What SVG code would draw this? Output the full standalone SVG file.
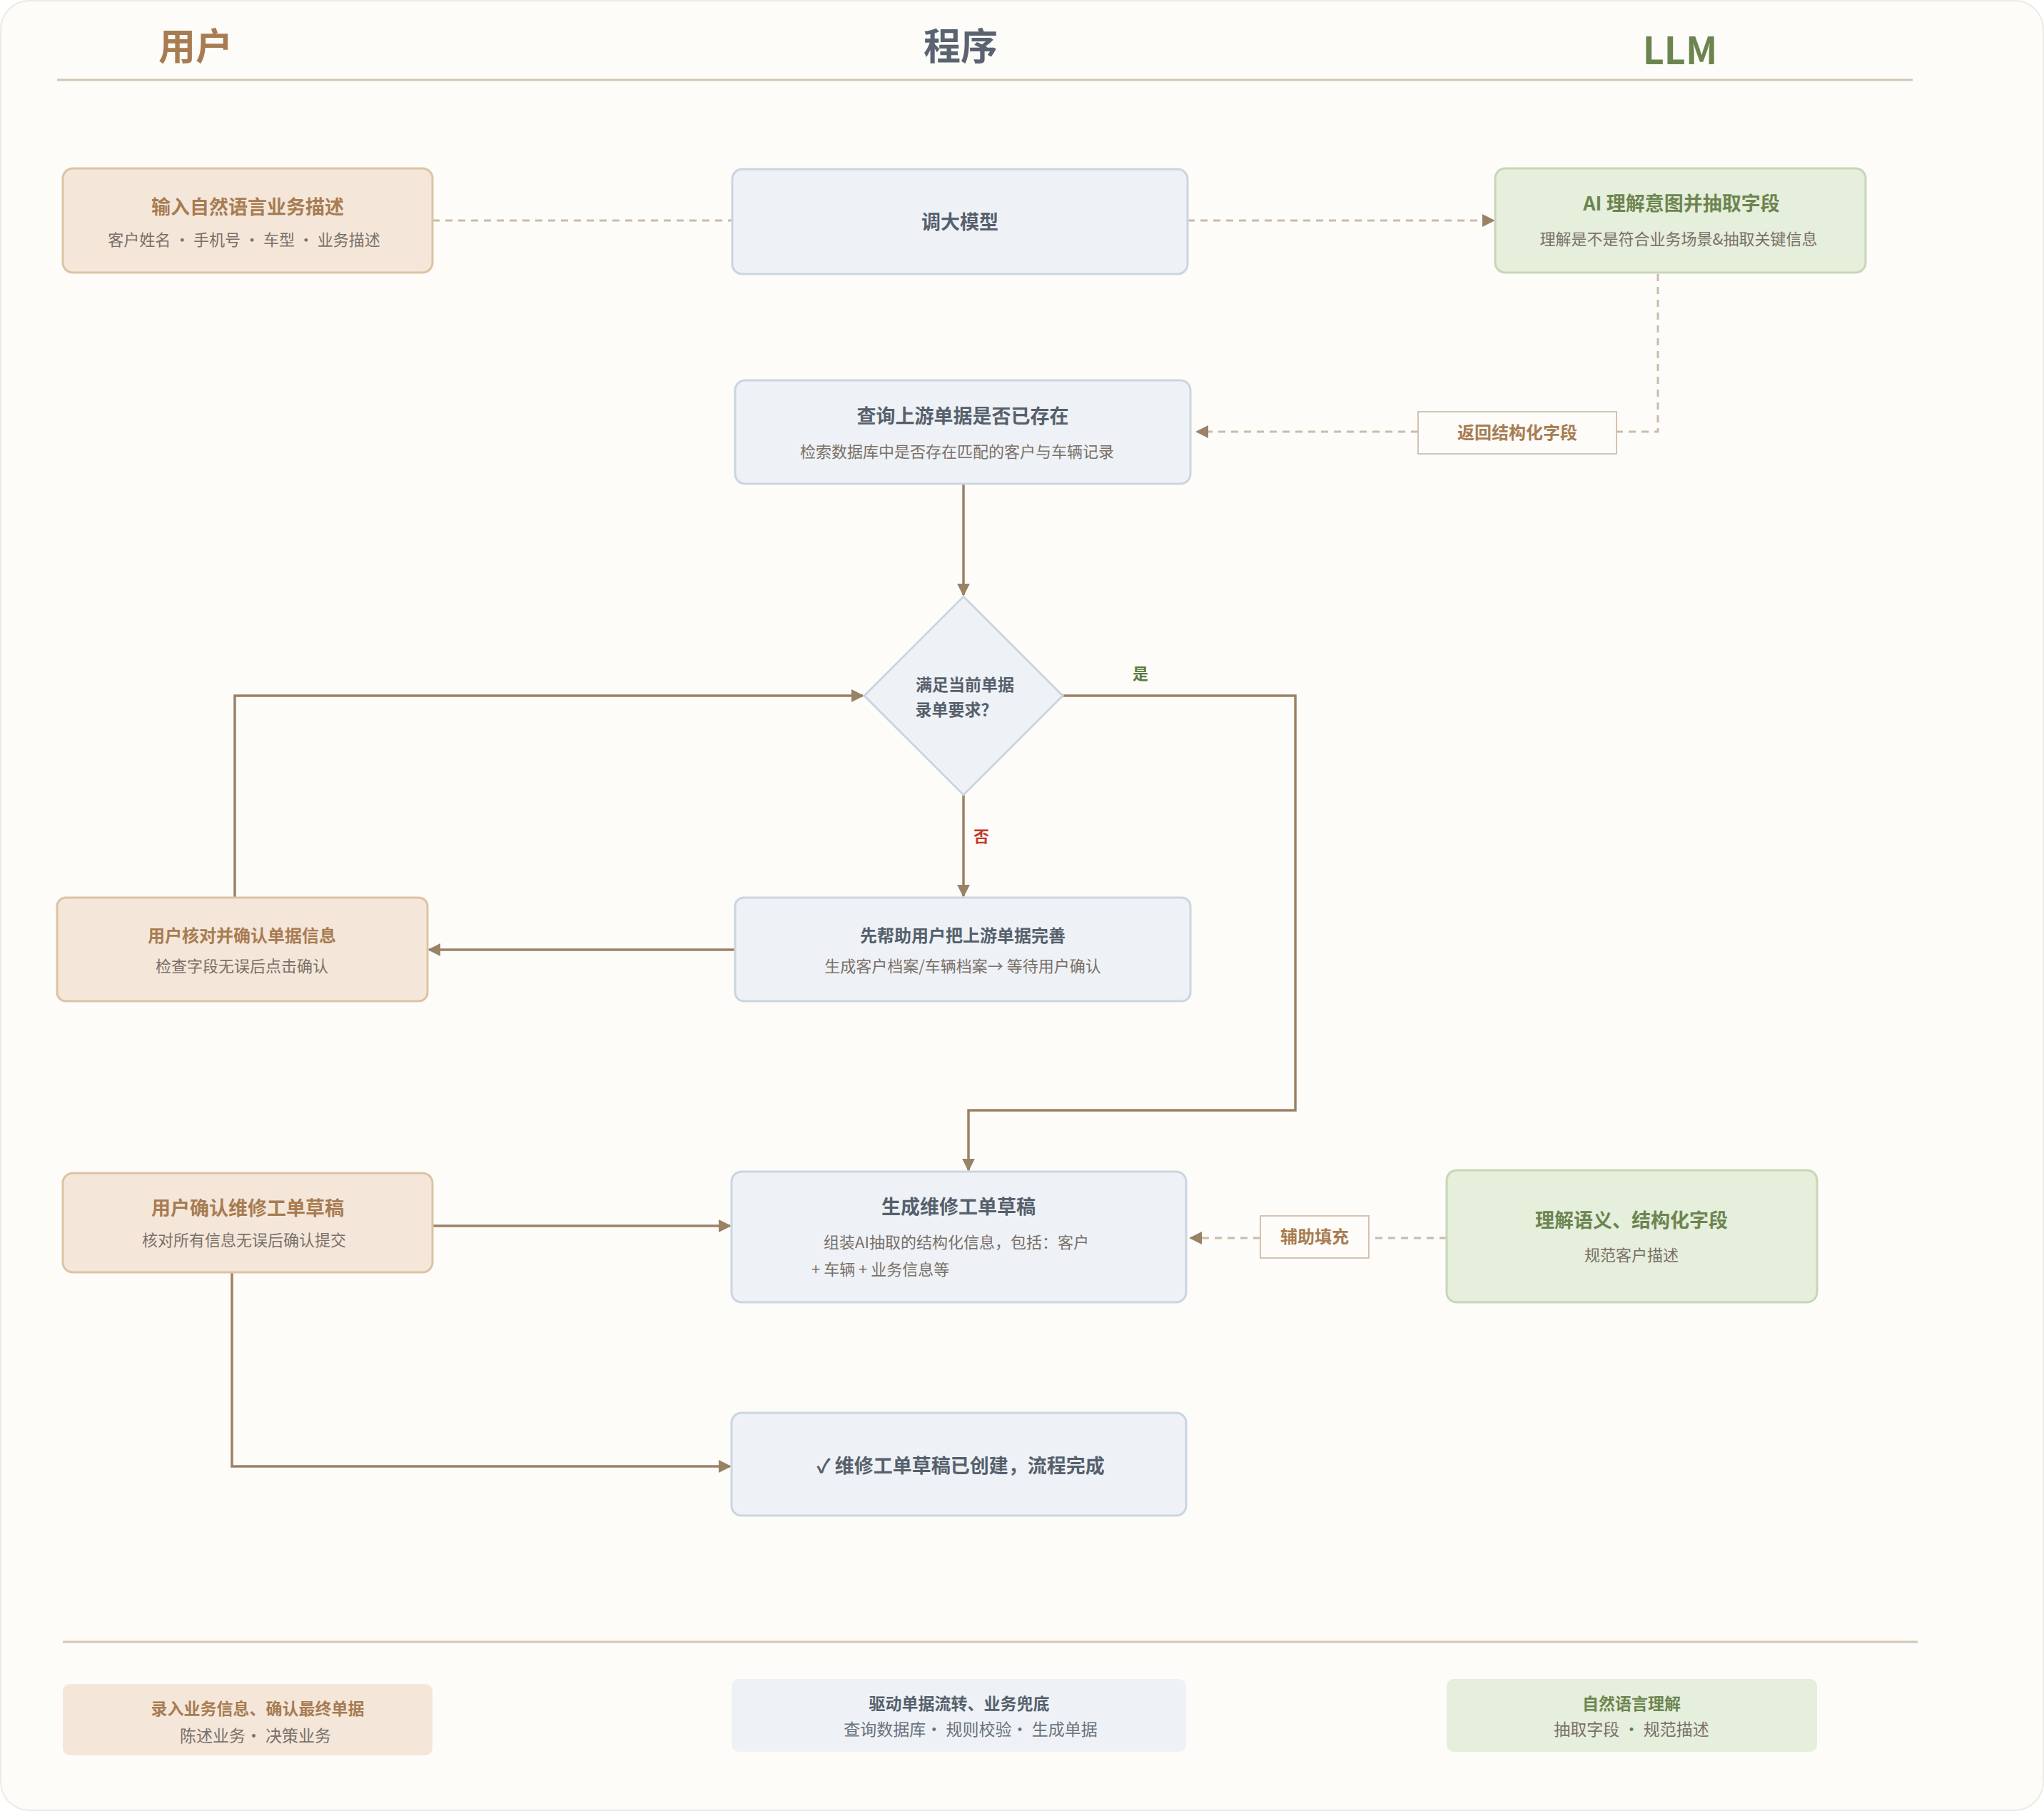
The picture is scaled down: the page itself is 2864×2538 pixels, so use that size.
<svg xmlns="http://www.w3.org/2000/svg" width="2864" height="2538" viewBox="0 0 2864 2538">
<defs>
<marker id="a" viewBox="0 0 10 10" refX="9" refY="5" markerWidth="9" markerHeight="9" markerUnits="userSpaceOnUse" orient="auto"><path d="M0,0L10,5L0,10z" fill="#9a8265"/></marker>
<marker id="ad" viewBox="0 0 10 10" refX="9" refY="5" markerWidth="18" markerHeight="20" markerUnits="userSpaceOnUse" orient="auto"><path d="M0,0L10,5L0,10z" fill="#9a8265"/></marker>
<style>
text{font-family:"Noto Sans CJK SC","Liberation Sans",sans-serif;text-anchor:middle}
.u{fill:#f4e7da;stroke:#dcc3a3;stroke-width:3}
.p{fill:#eef2f6;stroke:#cbd5e0;stroke-width:3}
.l{fill:#e6eedc;stroke:#c8d6b5;stroke-width:3}
.tu{fill:#a87c52;font-size:27px;font-weight:bold}
.tp{fill:#56606c;font-size:27px;font-weight:bold}
.tl{fill:#6c8550;font-size:27px;font-weight:bold}
.s{fill:#7a7068;font-size:22px}
.sp{fill:#6a727c;font-size:22px}
.c{fill:none;stroke:#9a8265;stroke-width:3.5}
.d{fill:none;stroke:#cbbba7;stroke-width:3;stroke-dasharray:10 8}
</style>
</defs>
<rect x="1" y="1" width="2862" height="2536" rx="40" fill="#fdfcf9" stroke="#eeeae3" stroke-width="2"/>
<g id="headers">
<text x="274" y="84" font-size="52" font-weight="bold" fill="#a87c52">用户</text>
<text x="1346" y="84" font-size="52" font-weight="bold" fill="#5a6470">程序</text>
<text x="2354" y="90" font-size="52" font-weight="bold" fill="#6c8550">LLM</text>
<line x1="80" y1="112" x2="2680" y2="112" stroke="#d4c6b4" stroke-width="3"/>
<line x1="88" y1="2301" x2="2687" y2="2301" stroke="#d4c6b4" stroke-width="3"/>
</g>
<g id="connectors">
<path class="d" d="M606,309H1026"/>
<path class="d" d="M1664,309H2093" marker-end="url(#ad)"/>
<path class="d" d="M2323,384V605H2265"/>
<path class="d" d="M1987,605H1677" marker-end="url(#ad)"/>
<path class="d" d="M2027,1735H1918"/>
<path class="d" d="M1766,1735H1668" marker-end="url(#ad)"/>
<path class="c" d="M1350,678V834" marker-end="url(#ad)"/>
<path class="c" d="M1350,1114V1256" marker-end="url(#ad)"/>
<path class="c" d="M1489,975H1815V1556H1357V1640" marker-end="url(#ad)"/>
<path class="c" d="M1030,1331H601" marker-end="url(#ad)"/>
<path class="c" d="M329,1258V975H1209" marker-end="url(#ad)"/>
<path class="c" d="M606,1718H1023" marker-end="url(#ad)"/>
<path class="c" d="M325,1783V2055H1023" marker-end="url(#ad)"/>
<text x="1598" y="952" font-size="22" font-weight="bold" fill="#5d7a3e">是</text>
<text x="1375" y="1180" font-size="22" font-weight="bold" fill="#c0392b">否</text>
<rect x="1987" y="577" width="278" height="59" fill="#fdfcf9" stroke="#d4c3b0" stroke-width="2"/>
<text x="2126" y="615" font-size="24" font-weight="bold" fill="#a87c52">返回结构化字段</text>
<rect x="1766" y="1704" width="152" height="59" fill="#fdfcf9" stroke="#d4c3b0" stroke-width="2"/>
<text x="1842" y="1742" font-size="24" font-weight="bold" fill="#a87c52">辅助填充</text>
</g>
<g id="n1"><rect class="u" x="88" y="236" width="518" height="146" rx="14"/><text class="tu" x="347" y="300">输入自然语言业务描述</text><text class="s" x="342" y="344">客户姓名 · 手机号 · 车型 · 业务描述</text></g>
<g id="n2"><rect class="p" x="1026" y="237" width="638" height="147" rx="14"/><text class="tp" x="1345" y="321">调大模型</text></g>
<g id="n3"><rect class="l" x="2095" y="236" width="519" height="146" rx="14"/><text class="tl" x="2356" y="295">AI 理解意图并抽取字段</text><text class="s" x="2352" y="343">理解是不是符合业务场景&amp;抽取关键信息</text></g>
<g id="n4"><rect class="p" x="1030" y="533" width="638" height="145" rx="14"/><text class="tp" x="1349" y="593">查询上游单据是否已存在</text><text class="s" x="1341" y="641">检索数据库中是否存在匹配的客户与车辆记录</text></g>
<g id="n5"><path d="M1350,836L1489,975L1350,1114L1211,975z" fill="#eef2f6" stroke="#cbd5e0" stroke-width="3"/><text x="1352" y="968" font-size="23" font-weight="bold" fill="#56606c">满足当前单据</text><text x="1340" y="1003" font-size="23" font-weight="bold" fill="#56606c">录单要求？</text></g>
<g id="n6"><rect class="p" x="1030" y="1258" width="638" height="145" rx="12"/><text class="tp" x="1349" y="1320" style="font-size:24px">先帮助用户把上游单据完善</text><text class="s" x="1349" y="1362">生成客户档案/车辆档案→ 等待用户确认</text></g>
<g id="n7"><rect class="u" x="80" y="1258" width="519" height="145" rx="12"/><text class="tu" x="339" y="1320" style="font-size:24px">用户核对并确认单据信息</text><text class="s" x="339" y="1362">检查字段无误后点击确认</text></g>
<g id="n8"><rect class="p" x="1025" y="1642" width="637" height="183" rx="14"/><text class="tp" x="1343" y="1701">生成维修工单草稿</text><text class="s" x="1340" y="1749">组装AI抽取的结构化信息，包括：客户</text><text class="s" x="1137" y="1787" style="text-anchor:start">+ 车辆 + 业务信息等</text></g>
<g id="n9"><rect class="u" x="88" y="1644" width="518" height="139" rx="14"/><text class="tu" x="347" y="1703">用户确认维修工单草稿</text><text class="s" x="342" y="1746">核对所有信息无误后确认提交</text></g>
<g id="n10"><rect class="l" x="2027" y="1640" width="519" height="185" rx="14"/><text class="tl" x="2286" y="1720">理解语义、结构化字段</text><text class="s" x="2286" y="1767">规范客户描述</text></g>
<g id="n11"><rect class="p" x="1025" y="1980" width="637" height="144" rx="14"/><text class="tp" x="1346" y="2064">✓ 维修工单草稿已创建，流程完成</text></g>
<g id="legend">
<rect x="88" y="2360" width="518" height="100" rx="10" fill="#f4e7da"/><text x="361" y="2403" font-size="23" font-weight="bold" fill="#a87c52">录入业务信息、确认最终单据</text><text x="358" y="2441" font-size="23" fill="#7a7068">陈述业务· 决策业务</text>
<rect x="1025" y="2353" width="637" height="102" rx="10" fill="#eef2f6"/><text x="1344" y="2396" font-size="23" font-weight="bold" fill="#56606c">驱动单据流转、业务兜底</text><text x="1360" y="2432" font-size="23" fill="#6a727c">查询数据库· 规则校验· 生成单据</text>
<rect x="2027" y="2353" width="519" height="102" rx="10" fill="#e6eedc"/><text x="2286" y="2396" font-size="23" font-weight="bold" fill="#6c8550">自然语言理解</text><text x="2286" y="2432" font-size="23" fill="#7a7068">抽取字段 · 规范描述</text>
</g>
</svg>
